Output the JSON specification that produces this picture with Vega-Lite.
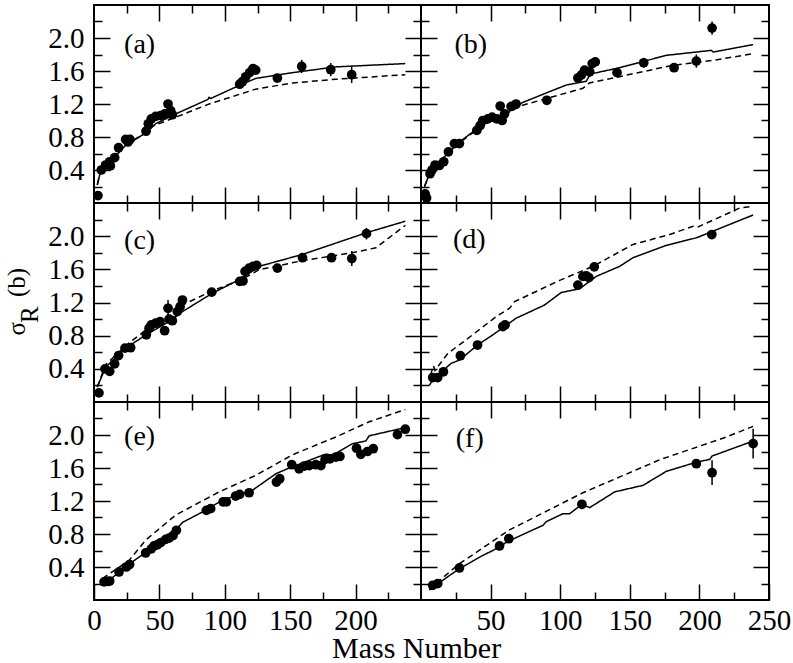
{
  "$schema": "https://vega.github.io/schema/vega-lite/v6.json",
  "padding": {"left": 3, "top": 3, "right": 5, "bottom": 0},
  "config": {
    "view": {"stroke": "black", "strokeWidth": 2},
    "font": "Liberation Serif",
    "axis": {
      "domain": false, "grid": false, "tickColor": "black", "tickWidth": 1.5,
      "labelFont": "Liberation Serif", "labelFontSize": 29, "labelColor": "black",
      "labelFlush": false, "labelOverlap": false,
      "titleFont": "Liberation Serif", "titleFontSize": 25, "titleFontWeight": "normal", "titleColor": "black"
    },
    "axisX": {"labelPadding": 22},
    "axisY": {"labelPadding": 26}
  },
  "title": {"text": "Mass Number", "orient": "bottom", "anchor": "start", "frame": "group", "fontSize": 30, "font": "Liberation Serif", "fontWeight": "normal", "color": "black", "offset": -10, "dx": 238},
  "datasets": {
    "tags": [
      {"p": "a", "t": "(a)"}, {"p": "b", "t": "(b)"}, {"p": "c", "t": "(c)"},
      {"p": "d", "t": "(d)"}, {"p": "e", "t": "(e)"}, {"p": "f", "t": "(f)"}
    ],
    "pts": [
      {"p": "a", "a": 3, "s": 0.09, "e": 0}, {"p": "a", "a": 5.6, "s": 0.4, "e": 0}, {"p": "a", "a": 8.9, "s": 0.46, "e": 0},
      {"p": "a", "a": 12, "s": 0.5, "e": 0}, {"p": "a", "a": 12.5, "s": 0.45, "e": 0}, {"p": "a", "a": 15.8, "s": 0.55, "e": 0},
      {"p": "a", "a": 18.8, "s": 0.67, "e": 0}, {"p": "a", "a": 24.2, "s": 0.77, "e": 0}, {"p": "a", "a": 26, "s": 0.74, "e": 0},
      {"p": "a", "a": 27.5, "s": 0.77, "e": 0}, {"p": "a", "a": 39.8, "s": 0.87, "e": 0}, {"p": "a", "a": 41.5, "s": 0.96, "e": 0},
      {"p": "a", "a": 43.8, "s": 1.02, "e": 0}, {"p": "a", "a": 47.1, "s": 1.05, "e": 0}, {"p": "a", "a": 51, "s": 1.06, "e": 0},
      {"p": "a", "a": 54.1, "s": 1.08, "e": 0}, {"p": "a", "a": 56.6, "s": 1.2, "e": 0}, {"p": "a", "a": 58.6, "s": 1.12, "e": 0},
      {"p": "a", "a": 59.9, "s": 1.07, "e": 0}, {"p": "a", "a": 111.4, "s": 1.44, "e": 0}, {"p": "a", "a": 113.4, "s": 1.47, "e": 0},
      {"p": "a", "a": 116, "s": 1.53, "e": 0}, {"p": "a", "a": 119, "s": 1.58, "e": 0}, {"p": "a", "a": 121.6, "s": 1.63, "e": 0},
      {"p": "a", "a": 123.6, "s": 1.61, "e": 0}, {"p": "a", "a": 140.2, "s": 1.515, "e": 0}, {"p": "a", "a": 158.8, "s": 1.655, "e": 0.08},
      {"p": "a", "a": 181, "s": 1.616, "e": 0.08}, {"p": "a", "a": 197, "s": 1.555, "e": 0.1},

      {"p": "b", "a": 3, "s": 0.11, "e": 0}, {"p": "b", "a": 4, "s": 0.06, "e": 0}, {"p": "b", "a": 6.5, "s": 0.355, "e": 0},
      {"p": "b", "a": 7.9, "s": 0.4, "e": 0}, {"p": "b", "a": 10.1, "s": 0.46, "e": 0}, {"p": "b", "a": 13.2, "s": 0.455, "e": 0},
      {"p": "b", "a": 16.3, "s": 0.5, "e": 0}, {"p": "b", "a": 19.7, "s": 0.62, "e": 0}, {"p": "b", "a": 24, "s": 0.72, "e": 0},
      {"p": "b", "a": 27.6, "s": 0.72, "e": 0}, {"p": "b", "a": 40.1, "s": 0.88, "e": 0}, {"p": "b", "a": 42.5, "s": 0.94, "e": 0},
      {"p": "b", "a": 44.4, "s": 1.0, "e": 0}, {"p": "b", "a": 48, "s": 1.02, "e": 0}, {"p": "b", "a": 51.1, "s": 1.04, "e": 0},
      {"p": "b", "a": 54.5, "s": 1.02, "e": 0}, {"p": "b", "a": 56.9, "s": 1.175, "e": 0}, {"p": "b", "a": 58.3, "s": 1.0, "e": 0.05},
      {"p": "b", "a": 60, "s": 1.08, "e": 0}, {"p": "b", "a": 64.7, "s": 1.17, "e": 0}, {"p": "b", "a": 68.3, "s": 1.2, "e": 0},
      {"p": "b", "a": 90.4, "s": 1.245, "e": 0}, {"p": "b", "a": 112.7, "s": 1.515, "e": 0}, {"p": "b", "a": 115.1, "s": 1.55, "e": 0},
      {"p": "b", "a": 117.5, "s": 1.61, "e": 0}, {"p": "b", "a": 121.2, "s": 1.59, "e": 0}, {"p": "b", "a": 123, "s": 1.69, "e": 0},
      {"p": "b", "a": 125.2, "s": 1.71, "e": 0}, {"p": "b", "a": 140.8, "s": 1.58, "e": 0}, {"p": "b", "a": 160, "s": 1.7, "e": 0.06},
      {"p": "b", "a": 181.8, "s": 1.64, "e": 0.05}, {"p": "b", "a": 197.8, "s": 1.72, "e": 0.08}, {"p": "b", "a": 209.1, "s": 2.12, "e": 0.08},

      {"p": "c", "a": 3.8, "s": 0.11, "e": 0}, {"p": "c", "a": 8.4, "s": 0.4, "e": 0}, {"p": "c", "a": 12, "s": 0.37, "e": 0},
      {"p": "c", "a": 15.8, "s": 0.46, "e": 0}, {"p": "c", "a": 18.8, "s": 0.56, "e": 0}, {"p": "c", "a": 23.7, "s": 0.65, "e": 0},
      {"p": "c", "a": 28, "s": 0.655, "e": 0}, {"p": "c", "a": 40, "s": 0.81, "e": 0}, {"p": "c", "a": 42.1, "s": 0.89, "e": 0},
      {"p": "c", "a": 43.8, "s": 0.93, "e": 0}, {"p": "c", "a": 47.1, "s": 0.95, "e": 0}, {"p": "c", "a": 50.5, "s": 0.97, "e": 0},
      {"p": "c", "a": 54, "s": 0.86, "e": 0}, {"p": "c", "a": 56.6, "s": 1.13, "e": 0.1}, {"p": "c", "a": 57.4, "s": 1.0, "e": 0},
      {"p": "c", "a": 59.9, "s": 0.98, "e": 0}, {"p": "c", "a": 63.7, "s": 1.09, "e": 0}, {"p": "c", "a": 65.8, "s": 1.15, "e": 0},
      {"p": "c", "a": 67.6, "s": 1.23, "e": 0}, {"p": "c", "a": 90, "s": 1.325, "e": 0}, {"p": "c", "a": 111.4, "s": 1.455, "e": 0},
      {"p": "c", "a": 113.9, "s": 1.46, "e": 0}, {"p": "c", "a": 115.5, "s": 1.575, "e": 0}, {"p": "c", "a": 118.6, "s": 1.615, "e": 0},
      {"p": "c", "a": 121.6, "s": 1.636, "e": 0}, {"p": "c", "a": 124.4, "s": 1.648, "e": 0}, {"p": "c", "a": 140.2, "s": 1.615, "e": 0},
      {"p": "c", "a": 159.4, "s": 1.74, "e": 0}, {"p": "c", "a": 181.6, "s": 1.74, "e": 0}, {"p": "c", "a": 197.1, "s": 1.73, "e": 0.09},
      {"p": "c", "a": 208.3, "s": 2.03, "e": 0.07},

      {"p": "d", "a": 8.4, "s": 0.295, "e": 0}, {"p": "d", "a": 12, "s": 0.295, "e": 0}, {"p": "d", "a": 16.1, "s": 0.364, "e": 0},
      {"p": "d", "a": 28.3, "s": 0.558, "e": 0}, {"p": "d", "a": 40.6, "s": 0.687, "e": 0}, {"p": "d", "a": 58.8, "s": 0.91, "e": 0},
      {"p": "d", "a": 60.4, "s": 0.93, "e": 0}, {"p": "d", "a": 112.7, "s": 1.41, "e": 0}, {"p": "d", "a": 116.3, "s": 1.515, "e": 0},
      {"p": "d", "a": 118.7, "s": 1.52, "e": 0}, {"p": "d", "a": 120.6, "s": 1.5, "e": 0}, {"p": "d", "a": 124.5, "s": 1.63, "e": 0},
      {"p": "d", "a": 208.9, "s": 2.02, "e": 0},

      {"p": "e", "a": 7.7, "s": 0.22, "e": 0}, {"p": "e", "a": 10.2, "s": 0.225, "e": 0}, {"p": "e", "a": 12, "s": 0.23, "e": 0},
      {"p": "e", "a": 19.1, "s": 0.34, "e": 0}, {"p": "e", "a": 24.7, "s": 0.4, "e": 0}, {"p": "e", "a": 27.2, "s": 0.43, "e": 0},
      {"p": "e", "a": 39.5, "s": 0.57, "e": 0}, {"p": "e", "a": 43.8, "s": 0.62, "e": 0}, {"p": "e", "a": 45.9, "s": 0.655, "e": 0},
      {"p": "e", "a": 48.4, "s": 0.67, "e": 0}, {"p": "e", "a": 51, "s": 0.695, "e": 0}, {"p": "e", "a": 54.8, "s": 0.735, "e": 0},
      {"p": "e", "a": 57.4, "s": 0.75, "e": 0}, {"p": "e", "a": 60.4, "s": 0.78, "e": 0}, {"p": "e", "a": 63, "s": 0.845, "e": 0},
      {"p": "e", "a": 85.9, "s": 1.087, "e": 0}, {"p": "e", "a": 89.2, "s": 1.107, "e": 0}, {"p": "e", "a": 98.7, "s": 1.19, "e": 0},
      {"p": "e", "a": 101.2, "s": 1.19, "e": 0}, {"p": "e", "a": 108.3, "s": 1.26, "e": 0}, {"p": "e", "a": 111.4, "s": 1.28, "e": 0},
      {"p": "e", "a": 118.6, "s": 1.3, "e": 0}, {"p": "e", "a": 139.5, "s": 1.43, "e": 0}, {"p": "e", "a": 142, "s": 1.47, "e": 0},
      {"p": "e", "a": 151.2, "s": 1.64, "e": 0}, {"p": "e", "a": 156.8, "s": 1.59, "e": 0}, {"p": "e", "a": 160.7, "s": 1.624, "e": 0},
      {"p": "e", "a": 164.5, "s": 1.63, "e": 0}, {"p": "e", "a": 169.6, "s": 1.64, "e": 0}, {"p": "e", "a": 173.5, "s": 1.63, "e": 0},
      {"p": "e", "a": 176.7, "s": 1.705, "e": 0}, {"p": "e", "a": 180.3, "s": 1.71, "e": 0}, {"p": "e", "a": 184.9, "s": 1.733, "e": 0},
      {"p": "e", "a": 188, "s": 1.74, "e": 0}, {"p": "e", "a": 200.7, "s": 1.84, "e": 0}, {"p": "e", "a": 204, "s": 1.766, "e": 0},
      {"p": "e", "a": 209.1, "s": 1.8, "e": 0}, {"p": "e", "a": 213.5, "s": 1.834, "e": 0}, {"p": "e", "a": 232, "s": 2.004, "e": 0},
      {"p": "e", "a": 238, "s": 2.07, "e": 0},

      {"p": "f", "a": 8.4, "s": 0.178, "e": 0}, {"p": "f", "a": 12, "s": 0.198, "e": 0}, {"p": "f", "a": 27.6, "s": 0.388, "e": 0},
      {"p": "f", "a": 56.4, "s": 0.655, "e": 0.05}, {"p": "f", "a": 63.1, "s": 0.743, "e": 0.05}, {"p": "f", "a": 115.6, "s": 1.16, "e": 0},
      {"p": "f", "a": 197.8, "s": 1.652, "e": 0}, {"p": "f", "a": 209.1, "s": 1.543, "e": 0.15}, {"p": "f", "a": 238.6, "s": 1.895, "e": 0.18}
    ],
    "lines": [
      {"p": "a", "k": "solid", "a": 2.5, "s": 0.22}, {"p": "a", "k": "solid", "a": 5.6, "s": 0.42}, {"p": "a", "k": "solid", "a": 14, "s": 0.53},
      {"p": "a", "k": "solid", "a": 24.2, "s": 0.7}, {"p": "a", "k": "solid", "a": 39.8, "s": 0.85}, {"p": "a", "k": "solid", "a": 47, "s": 0.96},
      {"p": "a", "k": "solid", "a": 62.5, "s": 1.08}, {"p": "a", "k": "solid", "a": 87, "s": 1.255}, {"p": "a", "k": "solid", "a": 88, "s": 1.28},
      {"p": "a", "k": "solid", "a": 89, "s": 1.265}, {"p": "a", "k": "solid", "a": 108.3, "s": 1.405}, {"p": "a", "k": "solid", "a": 123.6, "s": 1.51},
      {"p": "a", "k": "solid", "a": 151.7, "s": 1.58}, {"p": "a", "k": "solid", "a": 184.9, "s": 1.65}, {"p": "a", "k": "solid", "a": 238, "s": 1.69},
      {"p": "a", "k": "dashed", "a": 2.5, "s": 0.22}, {"p": "a", "k": "dashed", "a": 5.6, "s": 0.42}, {"p": "a", "k": "dashed", "a": 14, "s": 0.53},
      {"p": "a", "k": "dashed", "a": 24.2, "s": 0.7}, {"p": "a", "k": "dashed", "a": 39.8, "s": 0.86}, {"p": "a", "k": "dashed", "a": 44.6, "s": 0.93},
      {"p": "a", "k": "dashed", "a": 62.5, "s": 1.04}, {"p": "a", "k": "dashed", "a": 88, "s": 1.2}, {"p": "a", "k": "dashed", "a": 123.6, "s": 1.38},
      {"p": "a", "k": "dashed", "a": 151.7, "s": 1.455}, {"p": "a", "k": "dashed", "a": 184.9, "s": 1.5}, {"p": "a", "k": "dashed", "a": 238, "s": 1.555},

      {"p": "b", "k": "solid", "a": 2.5, "s": 0.2}, {"p": "b", "k": "solid", "a": 6.5, "s": 0.37}, {"p": "b", "k": "solid", "a": 15.6, "s": 0.54},
      {"p": "b", "k": "solid", "a": 27.6, "s": 0.74}, {"p": "b", "k": "solid", "a": 40.3, "s": 0.9}, {"p": "b", "k": "solid", "a": 51.3, "s": 1.02},
      {"p": "b", "k": "solid", "a": 62.4, "s": 1.1}, {"p": "b", "k": "solid", "a": 73.2, "s": 1.22}, {"p": "b", "k": "solid", "a": 104.3, "s": 1.43},
      {"p": "b", "k": "solid", "a": 118.7, "s": 1.475}, {"p": "b", "k": "solid", "a": 120.5, "s": 1.53}, {"p": "b", "k": "solid", "a": 123.5, "s": 1.57},
      {"p": "b", "k": "solid", "a": 142.7, "s": 1.64}, {"p": "b", "k": "solid", "a": 176.3, "s": 1.79}, {"p": "b", "k": "solid", "a": 208.6, "s": 1.85},
      {"p": "b", "k": "solid", "a": 210, "s": 1.83}, {"p": "b", "k": "solid", "a": 238.6, "s": 1.92},
      {"p": "b", "k": "dashed", "a": 2.5, "s": 0.2}, {"p": "b", "k": "dashed", "a": 6.5, "s": 0.37}, {"p": "b", "k": "dashed", "a": 15.6, "s": 0.54},
      {"p": "b", "k": "dashed", "a": 27.6, "s": 0.73}, {"p": "b", "k": "dashed", "a": 40.3, "s": 0.89}, {"p": "b", "k": "dashed", "a": 51.3, "s": 1.01},
      {"p": "b", "k": "dashed", "a": 62.4, "s": 1.09}, {"p": "b", "k": "dashed", "a": 72, "s": 1.18}, {"p": "b", "k": "dashed", "a": 116.3, "s": 1.39},
      {"p": "b", "k": "dashed", "a": 121, "s": 1.455}, {"p": "b", "k": "dashed", "a": 145, "s": 1.54}, {"p": "b", "k": "dashed", "a": 181, "s": 1.67},
      {"p": "b", "k": "dashed", "a": 210, "s": 1.73}, {"p": "b", "k": "dashed", "a": 238.6, "s": 1.81},

      {"p": "c", "k": "solid", "a": 2.5, "s": 0.18}, {"p": "c", "k": "solid", "a": 8.9, "s": 0.42}, {"p": "c", "k": "solid", "a": 24.2, "s": 0.65},
      {"p": "c", "k": "solid", "a": 39.8, "s": 0.81}, {"p": "c", "k": "solid", "a": 57.4, "s": 0.97}, {"p": "c", "k": "solid", "a": 67.6, "s": 1.09},
      {"p": "c", "k": "solid", "a": 90.3, "s": 1.31}, {"p": "c", "k": "solid", "a": 113.4, "s": 1.495}, {"p": "c", "k": "solid", "a": 126.2, "s": 1.636},
      {"p": "c", "k": "solid", "a": 159.4, "s": 1.78}, {"p": "c", "k": "solid", "a": 208, "s": 2.04}, {"p": "c", "k": "solid", "a": 238, "s": 2.18},
      {"p": "c", "k": "dashed", "a": 2.5, "s": 0.18}, {"p": "c", "k": "dashed", "a": 8.9, "s": 0.45}, {"p": "c", "k": "dashed", "a": 24.2, "s": 0.68},
      {"p": "c", "k": "dashed", "a": 39.8, "s": 0.87}, {"p": "c", "k": "dashed", "a": 57.4, "s": 1.01}, {"p": "c", "k": "dashed", "a": 67.6, "s": 1.17},
      {"p": "c", "k": "dashed", "a": 90.3, "s": 1.34}, {"p": "c", "k": "dashed", "a": 113.4, "s": 1.48}, {"p": "c", "k": "dashed", "a": 126.2, "s": 1.595},
      {"p": "c", "k": "dashed", "a": 159.4, "s": 1.705}, {"p": "c", "k": "dashed", "a": 197.5, "s": 1.8}, {"p": "c", "k": "dashed", "a": 215.5, "s": 1.86},
      {"p": "c", "k": "dashed", "a": 238, "s": 2.13},

      {"p": "d", "k": "solid", "a": 6, "s": 0.2}, {"p": "d", "k": "solid", "a": 8.9, "s": 0.28}, {"p": "d", "k": "solid", "a": 21.6, "s": 0.465},
      {"p": "d", "k": "solid", "a": 27.6, "s": 0.505}, {"p": "d", "k": "solid", "a": 40.6, "s": 0.687}, {"p": "d", "k": "solid", "a": 51.6, "s": 0.81},
      {"p": "d", "k": "solid", "a": 68.3, "s": 1.01}, {"p": "d", "k": "solid", "a": 88.8, "s": 1.17}, {"p": "d", "k": "solid", "a": 100.7, "s": 1.32},
      {"p": "d", "k": "solid", "a": 114, "s": 1.366}, {"p": "d", "k": "solid", "a": 125.9, "s": 1.515}, {"p": "d", "k": "solid", "a": 142.7, "s": 1.636},
      {"p": "d", "k": "solid", "a": 152.3, "s": 1.74}, {"p": "d", "k": "solid", "a": 176.3, "s": 1.89}, {"p": "d", "k": "solid", "a": 197.8, "s": 1.98},
      {"p": "d", "k": "solid", "a": 238.6, "s": 2.255},
      {"p": "d", "k": "dashed", "a": 7, "s": 0.33}, {"p": "d", "k": "dashed", "a": 8.9, "s": 0.44}, {"p": "d", "k": "dashed", "a": 10, "s": 0.38},
      {"p": "d", "k": "dashed", "a": 19.2, "s": 0.585}, {"p": "d", "k": "dashed", "a": 32.4, "s": 0.75}, {"p": "d", "k": "dashed", "a": 54, "s": 1.03},
      {"p": "d", "k": "dashed", "a": 63.6, "s": 1.13}, {"p": "d", "k": "dashed", "a": 67.2, "s": 1.21}, {"p": "d", "k": "dashed", "a": 99.6, "s": 1.467},
      {"p": "d", "k": "dashed", "a": 123.5, "s": 1.636}, {"p": "d", "k": "dashed", "a": 152.3, "s": 1.9}, {"p": "d", "k": "dashed", "a": 178.7, "s": 2.02},
      {"p": "d", "k": "dashed", "a": 195.5, "s": 2.12}, {"p": "d", "k": "dashed", "a": 198.9, "s": 2.11}, {"p": "d", "k": "dashed", "a": 229, "s": 2.34},
      {"p": "d", "k": "dashed", "a": 238.6, "s": 2.36},

      {"p": "e", "k": "solid", "a": 6.4, "s": 0.2}, {"p": "e", "k": "solid", "a": 14, "s": 0.27}, {"p": "e", "k": "solid", "a": 25.5, "s": 0.42},
      {"p": "e", "k": "solid", "a": 39.8, "s": 0.58}, {"p": "e", "k": "solid", "a": 62.5, "s": 0.845}, {"p": "e", "k": "solid", "a": 67.6, "s": 0.94},
      {"p": "e", "k": "solid", "a": 82.9, "s": 1.067}, {"p": "e", "k": "solid", "a": 98.2, "s": 1.21}, {"p": "e", "k": "solid", "a": 121.1, "s": 1.33},
      {"p": "e", "k": "solid", "a": 139, "s": 1.53}, {"p": "e", "k": "solid", "a": 149.2, "s": 1.6}, {"p": "e", "k": "solid", "a": 174.7, "s": 1.754},
      {"p": "e", "k": "solid", "a": 177.7, "s": 1.77}, {"p": "e", "k": "solid", "a": 182, "s": 1.75}, {"p": "e", "k": "solid", "a": 197.6, "s": 1.895},
      {"p": "e", "k": "solid", "a": 207.8, "s": 1.927}, {"p": "e", "k": "solid", "a": 210.4, "s": 1.99}, {"p": "e", "k": "solid", "a": 238, "s": 2.09},
      {"p": "e", "k": "dashed", "a": 6.4, "s": 0.26}, {"p": "e", "k": "dashed", "a": 26.8, "s": 0.48}, {"p": "e", "k": "dashed", "a": 39.8, "s": 0.73},
      {"p": "e", "k": "dashed", "a": 62.5, "s": 1.03}, {"p": "e", "k": "dashed", "a": 95.6, "s": 1.31}, {"p": "e", "k": "dashed", "a": 123.6, "s": 1.51},
      {"p": "e", "k": "dashed", "a": 151.7, "s": 1.76}, {"p": "e", "k": "dashed", "a": 184.9, "s": 1.976}, {"p": "e", "k": "dashed", "a": 210.4, "s": 2.16},
      {"p": "e", "k": "dashed", "a": 238, "s": 2.31},

      {"p": "f", "k": "solid", "a": 6, "s": 0.125}, {"p": "f", "k": "solid", "a": 10.8, "s": 0.18}, {"p": "f", "k": "solid", "a": 21.6, "s": 0.31},
      {"p": "f", "k": "solid", "a": 27.6, "s": 0.38}, {"p": "f", "k": "solid", "a": 44.4, "s": 0.54}, {"p": "f", "k": "solid", "a": 51.6, "s": 0.6},
      {"p": "f", "k": "solid", "a": 63.6, "s": 0.72}, {"p": "f", "k": "solid", "a": 87.6, "s": 0.905}, {"p": "f", "k": "solid", "a": 90, "s": 0.95},
      {"p": "f", "k": "solid", "a": 102, "s": 1.046}, {"p": "f", "k": "solid", "a": 106.8, "s": 1.046}, {"p": "f", "k": "solid", "a": 115.6, "s": 1.16},
      {"p": "f", "k": "solid", "a": 121.2, "s": 1.12}, {"p": "f", "k": "solid", "a": 139.1, "s": 1.31}, {"p": "f", "k": "solid", "a": 159.5, "s": 1.39},
      {"p": "f", "k": "solid", "a": 176.3, "s": 1.56}, {"p": "f", "k": "solid", "a": 197.8, "s": 1.67}, {"p": "f", "k": "solid", "a": 207.5, "s": 1.705},
      {"p": "f", "k": "solid", "a": 209.1, "s": 1.745}, {"p": "f", "k": "solid", "a": 238.6, "s": 1.927},
      {"p": "f", "k": "dashed", "a": 6, "s": 0.12}, {"p": "f", "k": "dashed", "a": 15.6, "s": 0.27}, {"p": "f", "k": "dashed", "a": 27.6, "s": 0.44},
      {"p": "f", "k": "dashed", "a": 63.6, "s": 0.85}, {"p": "f", "k": "dashed", "a": 116.3, "s": 1.3}, {"p": "f", "k": "dashed", "a": 171.5, "s": 1.7},
      {"p": "f", "k": "dashed", "a": 219.4, "s": 1.976}, {"p": "f", "k": "dashed", "a": 238.6, "s": 2.105}
    ]
  },
  "columns": 2,
  "spacing": 0,
  "bounds": "flush",
  "align": "each",
  "concat": [
    {
      "width": 327, "height": 198,
      "resolve": {"axis": {"x": "independent", "y": "independent"}},
      "layer": [
        {"data": {"name": "lines"}, "transform": [{"filter": "datum.p === 'a'"}],
         "mark": {"type": "line", "color": "black", "strokeWidth": 1.5},
         "encoding": {
           "x": {"field": "a", "type": "quantitative", "scale": {"domain": [0, 250], "nice": false}, "axis": {"orient": "bottom", "values": [25, 50, 75, 100, 125, 150, 175, 200, 225], "tickSize": {"condition": {"test": "datum.value % 50 === 0", "value": -16}, "value": -8}, "labels": false, "title": null}},
           "y": {"field": "s", "type": "quantitative", "scale": {"domain": [0, 2.4], "nice": false}, "axis": {"orient": "left", "values": [0.2, 0.4, 0.6, 0.8, 1, 1.2, 1.4, 1.6, 1.8, 2, 2.2], "tickSize": {"condition": {"test": "round(datum.value * 10) % 4 === 0", "value": -16}, "value": -8}, "labelExpr": "round(datum.value * 10) % 4 === 0 ? format(datum.value, '.1f') : ''", "title": null}},
           "strokeDash": {"field": "k", "type": "nominal", "scale": {"domain": ["solid", "dashed"], "range": [[1, 0], [6, 4]]}, "legend": null}
         }},
        {"data": {"name": "pts"}, "transform": [{"filter": "datum.p === 'a' && datum.e > 0"}],
         "mark": {"type": "errorbar", "color": "black", "thickness": 1.5},
         "encoding": {
           "x": {"field": "a", "type": "quantitative", "scale": {"domain": [0, 250], "nice": false}, "axis": null},
           "y": {"field": "s", "type": "quantitative", "scale": {"domain": [0, 2.4], "nice": false}, "axis": null},
           "yError": {"field": "e"}
         }},
        {"data": {"name": "pts"}, "transform": [{"filter": "datum.p === 'a'"}],
         "mark": {"type": "circle", "color": "black", "size": 95, "opacity": 1},
         "encoding": {
           "x": {"field": "a", "type": "quantitative", "scale": {"domain": [0, 250], "nice": false}, "axis": {"orient": "top", "values": [25, 50, 75, 100, 125, 150, 175, 200, 225], "tickSize": {"condition": {"test": "datum.value % 50 === 0", "value": -16}, "value": -8}, "labels": false, "title": null}},
           "y": {"field": "s", "type": "quantitative", "scale": {"domain": [0, 2.4], "nice": false}, "axis": {"orient": "right", "values": [0.2, 0.4, 0.6, 0.8, 1, 1.2, 1.4, 1.6, 1.8, 2, 2.2], "tickSize": {"condition": {"test": "round(datum.value * 10) % 4 === 0", "value": -16}, "value": -8}, "labels": false, "title": null}}
         }},
        {"data": {"name": "tags"}, "transform": [{"filter": "datum.p === 'a'"}],
         "mark": {"type": "text", "align": "left", "baseline": "middle", "fontSize": 28, "font": "Liberation Serif", "color": "black"},
         "encoding": {
           "x": {"datum": 23, "type": "quantitative", "scale": {"domain": [0, 250], "nice": false}, "axis": null},
           "y": {"datum": 1.92, "type": "quantitative", "scale": {"domain": [0, 2.4], "nice": false}, "axis": null},
           "text": {"field": "t"}
         }}
      ]
    },
    {
      "width": 348, "height": 198,
      "resolve": {"axis": {"x": "independent", "y": "independent"}},
      "layer": [
        {"data": {"name": "lines"}, "transform": [{"filter": "datum.p === 'b'"}],
         "mark": {"type": "line", "color": "black", "strokeWidth": 1.5},
         "encoding": {
           "x": {"field": "a", "type": "quantitative", "scale": {"domain": [0, 250], "nice": false}, "axis": {"orient": "bottom", "values": [25, 50, 75, 100, 125, 150, 175, 200, 225], "tickSize": {"condition": {"test": "datum.value % 50 === 0", "value": -16}, "value": -8}, "labels": false, "title": null}},
           "y": {"field": "s", "type": "quantitative", "scale": {"domain": [0, 2.4], "nice": false}, "axis": {"orient": "left", "values": [0.2, 0.4, 0.6, 0.8, 1, 1.2, 1.4, 1.6, 1.8, 2, 2.2], "tickSize": {"condition": {"test": "round(datum.value * 10) % 4 === 0", "value": -16}, "value": -8}, "labels": false, "title": null}},
           "strokeDash": {"field": "k", "type": "nominal", "scale": {"domain": ["solid", "dashed"], "range": [[1, 0], [6, 4]]}, "legend": null}
         }},
        {"data": {"name": "pts"}, "transform": [{"filter": "datum.p === 'b' && datum.e > 0"}],
         "mark": {"type": "errorbar", "color": "black", "thickness": 1.5},
         "encoding": {
           "x": {"field": "a", "type": "quantitative", "scale": {"domain": [0, 250], "nice": false}, "axis": null},
           "y": {"field": "s", "type": "quantitative", "scale": {"domain": [0, 2.4], "nice": false}, "axis": null},
           "yError": {"field": "e"}
         }},
        {"data": {"name": "pts"}, "transform": [{"filter": "datum.p === 'b'"}],
         "mark": {"type": "circle", "color": "black", "size": 95, "opacity": 1},
         "encoding": {
           "x": {"field": "a", "type": "quantitative", "scale": {"domain": [0, 250], "nice": false}, "axis": {"orient": "top", "values": [25, 50, 75, 100, 125, 150, 175, 200, 225], "tickSize": {"condition": {"test": "datum.value % 50 === 0", "value": -16}, "value": -8}, "labels": false, "title": null}},
           "y": {"field": "s", "type": "quantitative", "scale": {"domain": [0, 2.4], "nice": false}, "axis": {"orient": "right", "values": [0.2, 0.4, 0.6, 0.8, 1, 1.2, 1.4, 1.6, 1.8, 2, 2.2], "tickSize": {"condition": {"test": "round(datum.value * 10) % 4 === 0", "value": -16}, "value": -8}, "labels": false, "title": null}}
         }},
        {"data": {"name": "tags"}, "transform": [{"filter": "datum.p === 'b'"}],
         "mark": {"type": "text", "align": "left", "baseline": "middle", "fontSize": 28, "font": "Liberation Serif", "color": "black"},
         "encoding": {
           "x": {"datum": 24, "type": "quantitative", "scale": {"domain": [0, 250], "nice": false}, "axis": null},
           "y": {"datum": 1.92, "type": "quantitative", "scale": {"domain": [0, 2.4], "nice": false}, "axis": null},
           "text": {"field": "t"}
         }}
      ]
    },
    {
      "width": 327, "height": 199,
      "resolve": {"axis": {"x": "independent", "y": "independent"}},
      "layer": [
        {"data": {"name": "lines"}, "transform": [{"filter": "datum.p === 'c'"}],
         "mark": {"type": "line", "color": "black", "strokeWidth": 1.5},
         "encoding": {
           "x": {"field": "a", "type": "quantitative", "scale": {"domain": [0, 250], "nice": false}, "axis": {"orient": "bottom", "values": [25, 50, 75, 100, 125, 150, 175, 200, 225], "tickSize": {"condition": {"test": "datum.value % 50 === 0", "value": -16}, "value": -8}, "labels": false, "title": null}},
           "y": {"field": "s", "type": "quantitative", "scale": {"domain": [0, 2.4], "nice": false}, "axis": {"orient": "left", "values": [0.2, 0.4, 0.6, 0.8, 1, 1.2, 1.4, 1.6, 1.8, 2, 2.2], "tickSize": {"condition": {"test": "round(datum.value * 10) % 4 === 0", "value": -16}, "value": -8}, "labelExpr": "round(datum.value * 10) % 4 === 0 ? format(datum.value, '.1f') : ''", "title": ["σ\u00a0\u00a0\u00a0\u00a0(b)", "\u200b\u00a0\u00a0R"], "titleAlign": "left", "titleY": 132, "titleLineHeight": 13, "titlePadding": 5}},
           "strokeDash": {"field": "k", "type": "nominal", "scale": {"domain": ["solid", "dashed"], "range": [[1, 0], [6, 4]]}, "legend": null}
         }},
        {"data": {"name": "pts"}, "transform": [{"filter": "datum.p === 'c' && datum.e > 0"}],
         "mark": {"type": "errorbar", "color": "black", "thickness": 1.5},
         "encoding": {
           "x": {"field": "a", "type": "quantitative", "scale": {"domain": [0, 250], "nice": false}, "axis": null},
           "y": {"field": "s", "type": "quantitative", "scale": {"domain": [0, 2.4], "nice": false}, "axis": null},
           "yError": {"field": "e"}
         }},
        {"data": {"name": "pts"}, "transform": [{"filter": "datum.p === 'c'"}],
         "mark": {"type": "circle", "color": "black", "size": 95, "opacity": 1},
         "encoding": {
           "x": {"field": "a", "type": "quantitative", "scale": {"domain": [0, 250], "nice": false}, "axis": {"orient": "top", "values": [25, 50, 75, 100, 125, 150, 175, 200, 225], "tickSize": {"condition": {"test": "datum.value % 50 === 0", "value": -16}, "value": -8}, "labels": false, "title": null}},
           "y": {"field": "s", "type": "quantitative", "scale": {"domain": [0, 2.4], "nice": false}, "axis": {"orient": "right", "values": [0.2, 0.4, 0.6, 0.8, 1, 1.2, 1.4, 1.6, 1.8, 2, 2.2], "tickSize": {"condition": {"test": "round(datum.value * 10) % 4 === 0", "value": -16}, "value": -8}, "labels": false, "title": null}}
         }},
        {"data": {"name": "tags"}, "transform": [{"filter": "datum.p === 'c'"}],
         "mark": {"type": "text", "align": "left", "baseline": "middle", "fontSize": 28, "font": "Liberation Serif", "color": "black"},
         "encoding": {
           "x": {"datum": 23, "type": "quantitative", "scale": {"domain": [0, 250], "nice": false}, "axis": null},
           "y": {"datum": 1.94, "type": "quantitative", "scale": {"domain": [0, 2.4], "nice": false}, "axis": null},
           "text": {"field": "t"}
         }}
      ]
    },
    {
      "width": 348, "height": 199,
      "resolve": {"axis": {"x": "independent", "y": "independent"}},
      "layer": [
        {"data": {"name": "lines"}, "transform": [{"filter": "datum.p === 'd'"}],
         "mark": {"type": "line", "color": "black", "strokeWidth": 1.5},
         "encoding": {
           "x": {"field": "a", "type": "quantitative", "scale": {"domain": [0, 250], "nice": false}, "axis": {"orient": "bottom", "values": [25, 50, 75, 100, 125, 150, 175, 200, 225], "tickSize": {"condition": {"test": "datum.value % 50 === 0", "value": -16}, "value": -8}, "labels": false, "title": null}},
           "y": {"field": "s", "type": "quantitative", "scale": {"domain": [0, 2.4], "nice": false}, "axis": {"orient": "left", "values": [0.2, 0.4, 0.6, 0.8, 1, 1.2, 1.4, 1.6, 1.8, 2, 2.2], "tickSize": {"condition": {"test": "round(datum.value * 10) % 4 === 0", "value": -16}, "value": -8}, "labels": false, "title": null}},
           "strokeDash": {"field": "k", "type": "nominal", "scale": {"domain": ["solid", "dashed"], "range": [[1, 0], [6, 4]]}, "legend": null}
         }},
        {"data": {"name": "pts"}, "transform": [{"filter": "datum.p === 'd'"}],
         "mark": {"type": "circle", "color": "black", "size": 95, "opacity": 1},
         "encoding": {
           "x": {"field": "a", "type": "quantitative", "scale": {"domain": [0, 250], "nice": false}, "axis": {"orient": "top", "values": [25, 50, 75, 100, 125, 150, 175, 200, 225], "tickSize": {"condition": {"test": "datum.value % 50 === 0", "value": -16}, "value": -8}, "labels": false, "title": null}},
           "y": {"field": "s", "type": "quantitative", "scale": {"domain": [0, 2.4], "nice": false}, "axis": {"orient": "right", "values": [0.2, 0.4, 0.6, 0.8, 1, 1.2, 1.4, 1.6, 1.8, 2, 2.2], "tickSize": {"condition": {"test": "round(datum.value * 10) % 4 === 0", "value": -16}, "value": -8}, "labels": false, "title": null}}
         }},
        {"data": {"name": "tags"}, "transform": [{"filter": "datum.p === 'd'"}],
         "mark": {"type": "text", "align": "left", "baseline": "middle", "fontSize": 28, "font": "Liberation Serif", "color": "black"},
         "encoding": {
           "x": {"datum": 23, "type": "quantitative", "scale": {"domain": [0, 250], "nice": false}, "axis": null},
           "y": {"datum": 1.95, "type": "quantitative", "scale": {"domain": [0, 2.4], "nice": false}, "axis": null},
           "text": {"field": "t"}
         }}
      ]
    },
    {
      "width": 327, "height": 198,
      "resolve": {"axis": {"x": "independent", "y": "independent"}},
      "layer": [
        {"data": {"name": "lines"}, "transform": [{"filter": "datum.p === 'e'"}],
         "mark": {"type": "line", "color": "black", "strokeWidth": 1.5},
         "encoding": {
           "x": {"field": "a", "type": "quantitative", "scale": {"domain": [0, 250], "nice": false}, "axis": {"orient": "bottom", "values": [0, 25, 50, 75, 100, 125, 150, 175, 200, 225], "tickSize": {"condition": {"test": "datum.value % 50 === 0", "value": -16}, "value": -8}, "labelExpr": "datum.value % 50 === 0 ? datum.label : ''", "title": null}},
           "y": {"field": "s", "type": "quantitative", "scale": {"domain": [0, 2.4], "nice": false}, "axis": {"orient": "left", "values": [0.2, 0.4, 0.6, 0.8, 1, 1.2, 1.4, 1.6, 1.8, 2, 2.2], "tickSize": {"condition": {"test": "round(datum.value * 10) % 4 === 0", "value": -16}, "value": -8}, "labelExpr": "round(datum.value * 10) % 4 === 0 ? format(datum.value, '.1f') : ''", "title": null}},
           "strokeDash": {"field": "k", "type": "nominal", "scale": {"domain": ["solid", "dashed"], "range": [[1, 0], [6, 4]]}, "legend": null}
         }},
        {"data": {"name": "pts"}, "transform": [{"filter": "datum.p === 'e'"}],
         "mark": {"type": "circle", "color": "black", "size": 95, "opacity": 1},
         "encoding": {
           "x": {"field": "a", "type": "quantitative", "scale": {"domain": [0, 250], "nice": false}, "axis": {"orient": "top", "values": [25, 50, 75, 100, 125, 150, 175, 200, 225], "tickSize": {"condition": {"test": "datum.value % 50 === 0", "value": -16}, "value": -8}, "labels": false, "title": null}},
           "y": {"field": "s", "type": "quantitative", "scale": {"domain": [0, 2.4], "nice": false}, "axis": {"orient": "right", "values": [0.2, 0.4, 0.6, 0.8, 1, 1.2, 1.4, 1.6, 1.8, 2, 2.2], "tickSize": {"condition": {"test": "round(datum.value * 10) % 4 === 0", "value": -16}, "value": -8}, "labels": false, "title": null}}
         }},
        {"data": {"name": "tags"}, "transform": [{"filter": "datum.p === 'e'"}],
         "mark": {"type": "text", "align": "left", "baseline": "middle", "fontSize": 28, "font": "Liberation Serif", "color": "black"},
         "encoding": {
           "x": {"datum": 23, "type": "quantitative", "scale": {"domain": [0, 250], "nice": false}, "axis": null},
           "y": {"datum": 1.97, "type": "quantitative", "scale": {"domain": [0, 2.4], "nice": false}, "axis": null},
           "text": {"field": "t"}
         }}
      ]
    },
    {
      "width": 348, "height": 198,
      "resolve": {"axis": {"x": "independent", "y": "independent"}},
      "layer": [
        {"data": {"name": "lines"}, "transform": [{"filter": "datum.p === 'f'"}],
         "mark": {"type": "line", "color": "black", "strokeWidth": 1.5},
         "encoding": {
           "x": {"field": "a", "type": "quantitative", "scale": {"domain": [0, 250], "nice": false}, "axis": {"orient": "bottom", "values": [25, 50, 75, 100, 125, 150, 175, 200, 225, 250], "tickSize": {"condition": {"test": "datum.value % 50 === 0", "value": -16}, "value": -8}, "labelExpr": "datum.value % 50 === 0 ? datum.label : ''", "title": null}},
           "y": {"field": "s", "type": "quantitative", "scale": {"domain": [0, 2.4], "nice": false}, "axis": {"orient": "left", "values": [0.2, 0.4, 0.6, 0.8, 1, 1.2, 1.4, 1.6, 1.8, 2, 2.2], "tickSize": {"condition": {"test": "round(datum.value * 10) % 4 === 0", "value": -16}, "value": -8}, "labels": false, "title": null}},
           "strokeDash": {"field": "k", "type": "nominal", "scale": {"domain": ["solid", "dashed"], "range": [[1, 0], [6, 4]]}, "legend": null}
         }},
        {"data": {"name": "pts"}, "transform": [{"filter": "datum.p === 'f' && datum.e > 0"}],
         "mark": {"type": "errorbar", "color": "black", "thickness": 1.5},
         "encoding": {
           "x": {"field": "a", "type": "quantitative", "scale": {"domain": [0, 250], "nice": false}, "axis": null},
           "y": {"field": "s", "type": "quantitative", "scale": {"domain": [0, 2.4], "nice": false}, "axis": null},
           "yError": {"field": "e"}
         }},
        {"data": {"name": "pts"}, "transform": [{"filter": "datum.p === 'f'"}],
         "mark": {"type": "circle", "color": "black", "size": 95, "opacity": 1},
         "encoding": {
           "x": {"field": "a", "type": "quantitative", "scale": {"domain": [0, 250], "nice": false}, "axis": {"orient": "top", "values": [25, 50, 75, 100, 125, 150, 175, 200, 225], "tickSize": {"condition": {"test": "datum.value % 50 === 0", "value": -16}, "value": -8}, "labels": false, "title": null}},
           "y": {"field": "s", "type": "quantitative", "scale": {"domain": [0, 2.4], "nice": false}, "axis": {"orient": "right", "values": [0.2, 0.4, 0.6, 0.8, 1, 1.2, 1.4, 1.6, 1.8, 2, 2.2], "tickSize": {"condition": {"test": "round(datum.value * 10) % 4 === 0", "value": -16}, "value": -8}, "labels": false, "title": null}}
         }},
        {"data": {"name": "tags"}, "transform": [{"filter": "datum.p === 'f'"}],
         "mark": {"type": "text", "align": "left", "baseline": "middle", "fontSize": 28, "font": "Liberation Serif", "color": "black"},
         "encoding": {
           "x": {"datum": 25, "type": "quantitative", "scale": {"domain": [0, 250], "nice": false}, "axis": null},
           "y": {"datum": 1.955, "type": "quantitative", "scale": {"domain": [0, 2.4], "nice": false}, "axis": null},
           "text": {"field": "t"}
         }}
      ]
    }
  ]
}
